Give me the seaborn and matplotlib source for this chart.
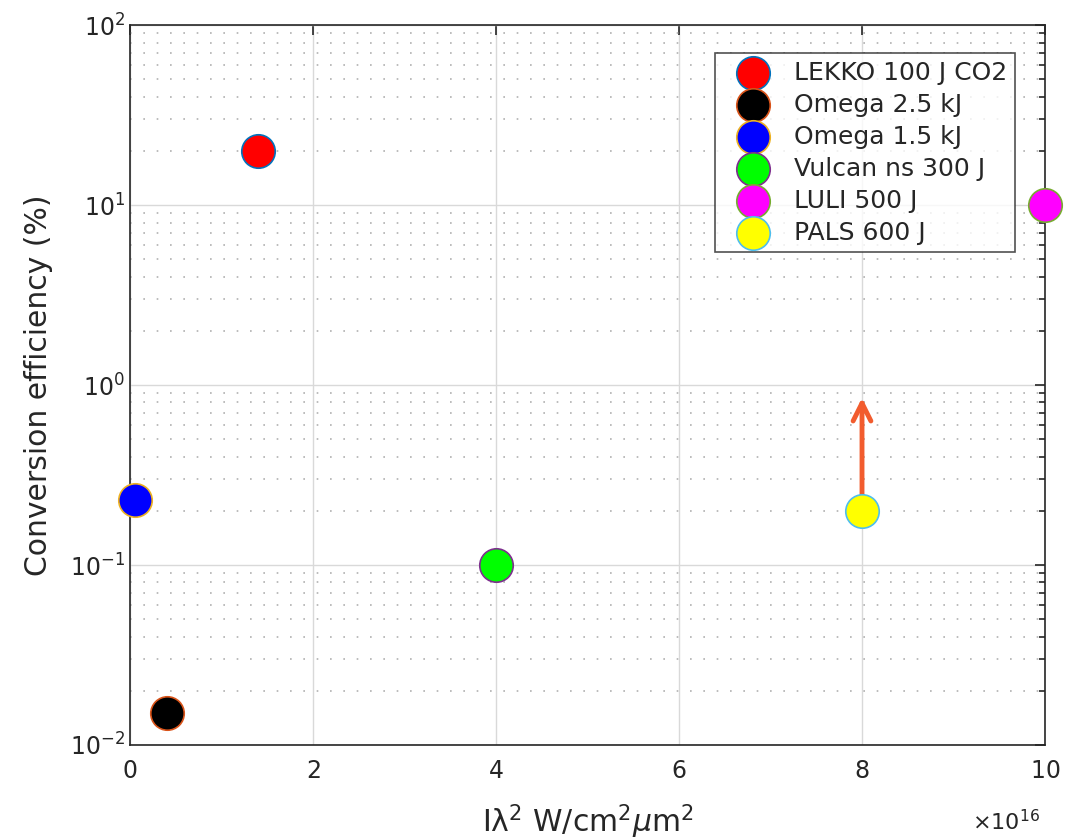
import numpy as np
import matplotlib
matplotlib.use("Agg")
import matplotlib.pyplot as plt
import seaborn as sns

# data
names = ["LEKKO 100 J CO2", "Omega 2.5 kJ", "Omega 1.5 kJ",
         "Vulcan ns 300 J", "LULI 500 J", "PALS 600 J"]
intensity = [1.4e16, 0.4e16, 0.05e16, 4.0e16, 10.0e16, 8.0e16]   # I*lambda^2
efficiency = [20.0, 0.015, 0.23, 0.1, 10.0, 0.2]                # percent
arrow_from = (8.0e16, 0.2)
arrow_to = (8.0e16, 0.85)

face_colors = ["#ff0000", "#000000", "#0000ff", "#00ff00", "#ff00ff", "#ffff00"]
edge_colors = ["#0072bd", "#d95319", "#edb120", "#7e2f8e", "#77ac30", "#4dbeee"]

sns.set_theme(style="white")
plt.rcParams["font.family"] = ["DejaVu Sans"]
ink = "#262626"

fig = plt.figure(figsize=(10.77, 8.4), dpi=100)
ax = fig.add_axes([0.1207, 0.1131, 0.8496, 0.857])

ax.annotate("", xy=arrow_to, xytext=arrow_from,
            arrowprops=dict(arrowstyle="->", color="#f25c2e", lw=3.5,
                            mutation_scale=32, shrinkA=0, shrinkB=0),
            zorder=2)

for n, xv, yv, fc, ec in zip(names, intensity, efficiency, face_colors, edge_colors):
    sns.scatterplot(x=[xv], y=[yv], ax=ax, s=580, color=fc, edgecolor=ec,
                    linewidth=1.2, label=n, clip_on=False, zorder=3)

ax.set_yscale("log")
ax.set_xlim(0, 10e16)
ax.set_ylim(1e-2, 1e2)
ax.set_xticks(np.arange(0, 10.1e16, 2e16))
ax.ticklabel_format(axis="x", style="sci", scilimits=(16, 16), useMathText=True)
ax.xaxis.get_offset_text().set_visible(False)
ax.text(0.995, -0.107, r"$\times 10^{16}$", transform=ax.transAxes, ha="right",
        va="center", fontsize=16, color=ink)

ax.grid(True, which="major", color="#d9d9d9", linestyle="-", linewidth=1)
ax.grid(True, which="minor", axis="y", color="#b0b0b0", linestyle=(0, (1, 7)), linewidth=1.2)
ax.set_axisbelow(True)

ax.tick_params(which="both", direction="in", top=True, right=True,
               colors=ink, labelsize=17)
ax.tick_params(axis="x", pad=10)
ax.tick_params(which="major", length=7, width=1.2)
ax.tick_params(which="minor", length=4, width=1.2)
for sp in ax.spines.values():
    sp.set_color(ink)
    sp.set_linewidth(1.2)

ax.set_xlabel("I\u03bb$^2$ W/cm$^2\\mu$m$^2$", fontsize=21.5, color=ink, labelpad=14)
ax.set_ylabel("Conversion efficiency (%)", fontsize=21.5, color=ink, labelpad=12)

leg = ax.legend(loc="upper right", bbox_to_anchor=(0.967, 0.961), borderaxespad=0,
                fontsize=18, frameon=True, fancybox=False, edgecolor=ink,
                labelspacing=0.32, handlelength=2.5, handletextpad=0.38, borderpad=0.3)
leg.get_frame().set_linewidth(1.2)
for t in leg.get_texts():
    t.set_color(ink)

fig.savefig("out.png", dpi=100)
